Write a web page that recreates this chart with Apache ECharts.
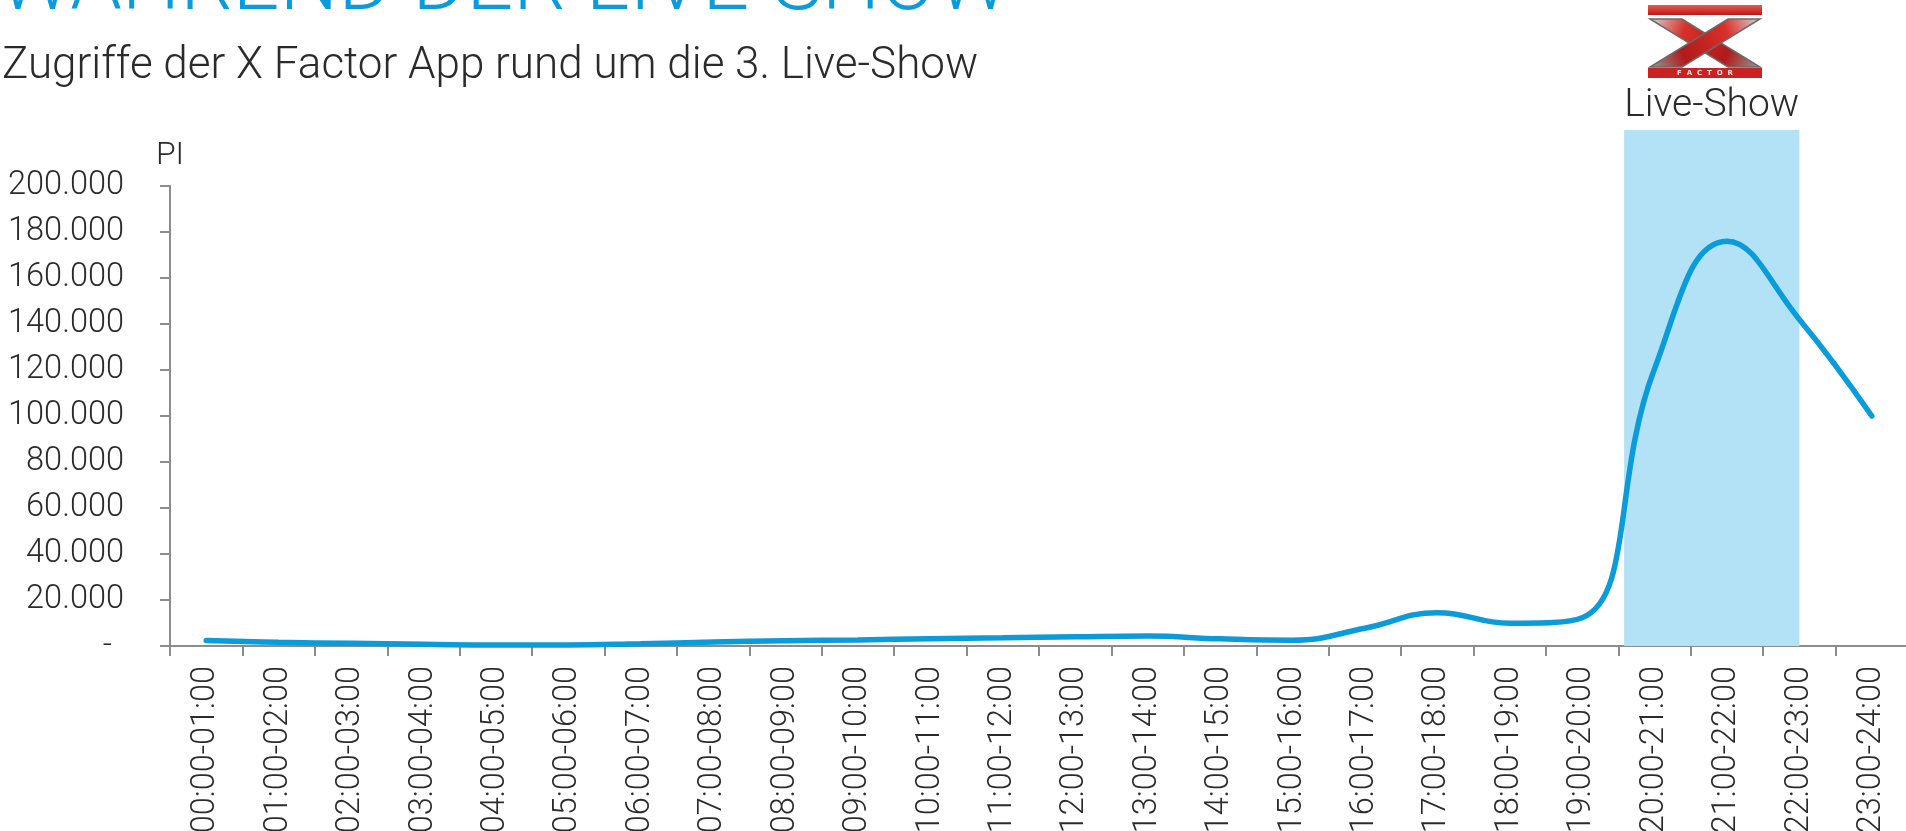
<!DOCTYPE html>
<html>
<head>
<meta charset="utf-8">
<script src="https://cdn.jsdelivr.net/npm/echarts@6/dist/echarts.min.js"></script>
<style>
  html, body { margin: 0; padding: 0; background: #fff; }
  #chart { width: 1906px; height: 831px; }
</style>
</head>
<body>
<div id="chart"></div>
<script>
// Stundenintervalle
var hours = [
  '00:00-01:00', '01:00-02:00', '02:00-03:00', '03:00-04:00', '04:00-05:00', '05:00-06:00',
  '06:00-07:00', '07:00-08:00', '08:00-09:00', '09:00-10:00', '10:00-11:00', '11:00-12:00',
  '12:00-13:00', '13:00-14:00', '14:00-15:00', '15:00-16:00', '16:00-17:00', '17:00-18:00',
  '18:00-19:00', '19:00-20:00', '20:00-21:00', '21:00-22:00', '22:00-23:00', '23:00-24:00'
];
// Page Impressions (PI) je Stunde
var pageImpressions = [
  2350, 1600, 1150, 750, 400, 450,
  1000, 1700, 2300, 2600, 3200, 3600,
  4000, 4300, 3100, 2500, 7700, 14500,
  9900, 12300, 120500, 176000, 142000, 100000
];
// Zeitraum der Live-Show auf der Stundenachse (Start / Ende)
var liveShowSpan = [20.08, 22.5];
var yMax = 200000;
var yStep = 20000;

var blue = '#0a9bdb';
var textColor = '#2b2b2b';
var axisColor = '#8c8c8c';
var font = 'Roboto';

function formatPI(v) {
  if (v === 0) return '{z|-}';
  return String(v).replace(/\B(?=(\d{3})+(?!\d))/g, '.');
}

var chart = echarts.init(document.getElementById('chart'));

var option = {
  animation: false,
  backgroundColor: '#fff',
  textStyle: { fontFamily: font, fontWeight: 300 },
  title: [
    {
      text: 'WÄHREND DER LIVE-SHOW',
      left: -2,
      top: -53,
      padding: 0,
      textStyle: { fontFamily: font, fontWeight: 300, fontSize: 82.5, color: blue, lineHeight: 82 }
    },
    {
      text: 'Zugriffe der X Factor App rund um die 3. Live-Show',
      left: 2,
      top: 45,
      padding: 0,
      textStyle: { fontFamily: font, fontWeight: 300, fontSize: 44, color: textColor, lineHeight: 44 }
    }
  ],
  grid: [
    { left: 170, width: 1738, top: 186, bottom: 185, outerBoundsMode: 'none' },
    { left: 170, width: 1738, top: 130, bottom: 185, outerBoundsMode: 'none' }
  ],
  xAxis: [
    {
      type: 'category',
      gridIndex: 0,
      data: hours,
      boundaryGap: true,
      axisLine: { lineStyle: { color: axisColor, width: 2 } },
      axisTick: { show: true, length: 10, lineStyle: { color: axisColor, width: 2 } },
      axisLabel: {
        rotate: 90,
        margin: 20,
        interval: 0,
        fontFamily: font,
        fontWeight: 300,
        fontSize: 32.5,
        color: textColor
      }
    },
    { type: 'value', gridIndex: 1, min: 0, max: 24, show: false }
  ],
  yAxis: [
    {
      type: 'value',
      gridIndex: 0,
      min: 0,
      max: yMax,
      interval: yStep,
      name: 'PI',
      nameLocation: 'end',
      nameGap: 14,
      nameTextStyle: { fontFamily: font, fontWeight: 300, fontSize: 32, color: textColor },
      splitLine: { show: false },
      axisLine: { show: true, lineStyle: { color: axisColor, width: 2 } },
      axisTick: { show: true, length: 10, lineStyle: { color: axisColor, width: 2 } },
      axisLabel: {
        margin: 46,
        fontFamily: font,
        fontWeight: 300,
        fontSize: 32.5,
        color: textColor,
        formatter: formatPI,
        rich: { z: { fontFamily: font, fontSize: 32, color: textColor, padding: [0, 12, 0, 0] } }
      }
    },
    { type: 'value', gridIndex: 1, min: 0, max: 1, show: false }
  ],
  series: [
    {
      name: 'Live-Show',
      type: 'line',
      xAxisIndex: 1,
      yAxisIndex: 1,
      data: [],
      silent: true,
      markArea: {
        silent: true,
        itemStyle: { color: '#b3e1f5' },
        label: {
          show: true,
          position: 'top',
          distance: 4,
          fontFamily: font,
          fontWeight: 300,
          fontSize: 39,
          color: textColor
        },
        data: [[
          { name: 'Live-Show', xAxis: liveShowSpan[0], yAxis: 0 },
          { xAxis: liveShowSpan[1], yAxis: 1 }
        ]]
      }
    },
    {
      name: 'PI',
      type: 'line',
      xAxisIndex: 0,
      yAxisIndex: 0,
      data: pageImpressions,
      smooth: 0.45,
      symbol: 'none',
      lineStyle: { color: blue, width: 5.5, cap: 'round' },
      z: 5
    }
  ],
  graphic: [
    {
      type: 'group',
      left: 1648,
      top: 5,
      children: [
        { type: 'rect', shape: { x: 0, y: 0, width: 114, height: 10 },
          style: { fill: new echarts.graphic.LinearGradient(0, 0, 0, 1, [
            { offset: 0, color: '#f05a4a' }, { offset: 1, color: '#b81818' }]) } },
        { type: 'polygon', shape: { points: [[2, 14], [34, 14], [112, 62], [80, 62]] },
          style: { fill: new echarts.graphic.LinearGradient(0, 0, 1, 1, [
            { offset: 0, color: '#d8d8d8' }, { offset: 0.3, color: '#d9302a' }, { offset: 0.7, color: '#b01a1a' }, { offset: 1, color: '#9a9a9a' }]),
            stroke: '#6a6a6a', lineWidth: 1.5 } },
        { type: 'polygon', shape: { points: [[80, 14], [112, 14], [34, 62], [2, 62]] },
          style: { fill: new echarts.graphic.LinearGradient(1, 0, 0, 1, [
            { offset: 0, color: '#d8d8d8' }, { offset: 0.3, color: '#d9302a' }, { offset: 0.7, color: '#b01a1a' }, { offset: 1, color: '#9a9a9a' }]),
            stroke: '#6a6a6a', lineWidth: 1.5 } },
        { type: 'rect', shape: { x: 0, y: 63, width: 114, height: 10 },
          style: { fill: '#c92222' } },
        { type: 'text', style: { text: 'F  A  C  T  O  R', x: 57, y: 68, align: 'center', verticalAlign: 'middle',
            fill: '#fde0d8', font: 'bold 7px DejaVu Sans' } }
      ]
    }
  ]
};

chart.setOption(option);
</script>
</body>
</html>
